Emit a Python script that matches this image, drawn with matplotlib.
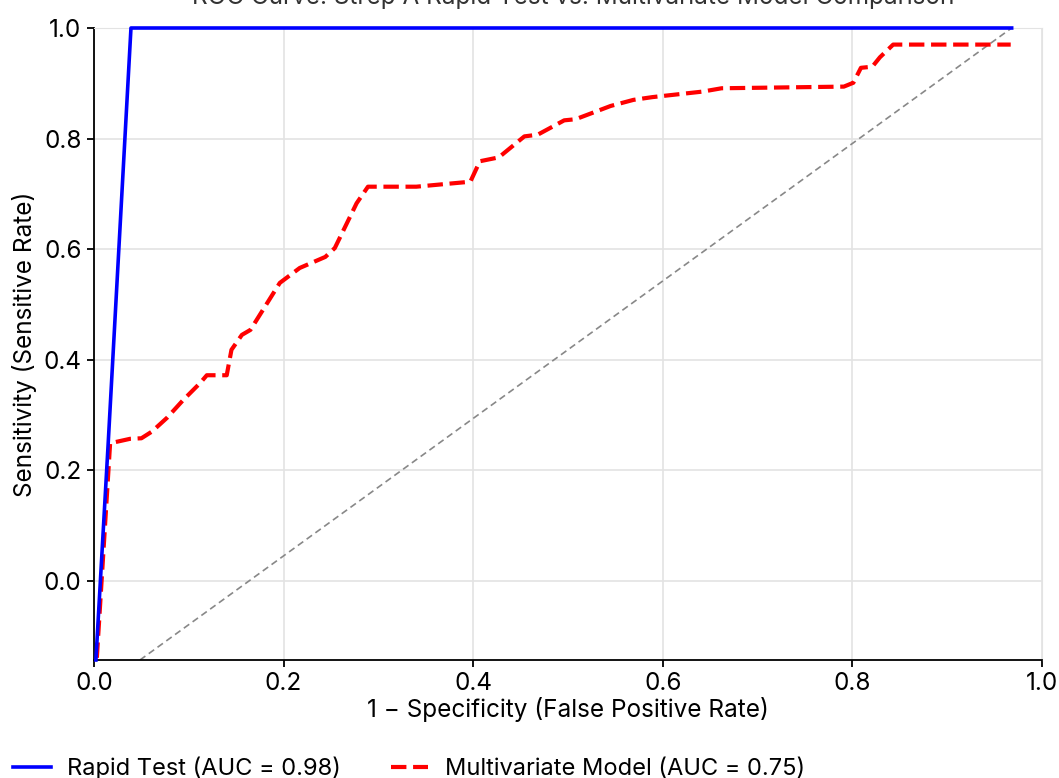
import matplotlib.pyplot as plt

plt.rcParams['font.family'] = ['Inter', 'DejaVu Sans']

title = "ROC Curve: Strep A Rapid Test vs. Multivariate Model Comparison"

# rapid test curve
rapid_fpr = [0.002, 0.015, 0.039, 0.968]
rapid_tpr = [-0.143, 0.25, 1.0, 1.0]

# multivariate model curve
multi_fpr = [0.003, 0.017, 0.038, 0.050, 0.061, 0.077, 0.094, 0.112, 0.119, 0.140,
             0.145, 0.156, 0.165, 0.196, 0.217, 0.244, 0.254, 0.277, 0.289, 0.340,
             0.397, 0.407, 0.427, 0.454, 0.468, 0.496, 0.508, 0.545, 0.569, 0.589,
             0.642, 0.662, 0.791, 0.801, 0.809, 0.821, 0.829, 0.843, 0.967]
multi_tpr = [-0.139, 0.249, 0.257, 0.258, 0.270, 0.295, 0.327, 0.358, 0.372, 0.372,
             0.418, 0.445, 0.454, 0.539, 0.566, 0.586, 0.602, 0.683, 0.713, 0.713,
             0.722, 0.759, 0.766, 0.804, 0.807, 0.833, 0.835, 0.859, 0.870, 0.875,
             0.885, 0.891, 0.894, 0.901, 0.928, 0.930, 0.947, 0.970, 0.970]

# chance line endpoints
chance_x = [0.0485, 0.968]
chance_y = [-0.143, 1.0]

labels = ["Rapid Test (AUC = 0.98)", "Multivariate Model (AUC = 0.75)"]

fs = 17.5

fig = plt.figure(figsize=(10.59, 7.78), dpi=100)
ax = fig.add_axes([94/1059, 118/778, 948/1059, 632/778])

ax.plot(chance_x, chance_y, color='#888888', linestyle='--', linewidth=1.2, dashes=(4, 2.5))
ax.plot(rapid_fpr, rapid_tpr, color='blue', linewidth=2.6, label=labels[0], clip_on=False, zorder=3)
ax.plot(multi_fpr, multi_tpr, color='red', linewidth=3.0, linestyle='--', label=labels[1])

ax.set_xlim(0, 1.0)
ax.set_ylim(-0.143, 1.0)
ax.set_xticks([0, 0.2, 0.4, 0.6, 0.8, 1.0])
ax.set_yticks([0, 0.2, 0.4, 0.6, 0.8, 1.0])
ax.grid(True, color='#e3e3e3', linewidth=1.2)
ax.set_axisbelow(True)
for s in ['top', 'right']:
    ax.spines[s].set_color('#e3e3e3')
for s in ['left', 'bottom']:
    ax.spines[s].set_linewidth(1.3)
ax.tick_params(labelsize=fs, length=5, width=1.3, pad=4)
ax.set_xlabel("1 − Specificity (False Positive Rate)", fontsize=fs, labelpad=1)
ax.set_ylabel("Sensitivity (Sensitive Rate)", fontsize=fs, labelpad=5)

fig.text(0.541, 1 - 4/778, title, ha='center', va='baseline', fontsize=fs, color='#333333')

fig.legend(loc='lower left', bbox_to_anchor=(-0.008, -0.03), ncol=2, frameon=False,
           fontsize=17, handlelength=1.6, columnspacing=2.1, handletextpad=0.7)

fig.savefig('out.png', dpi=100)
